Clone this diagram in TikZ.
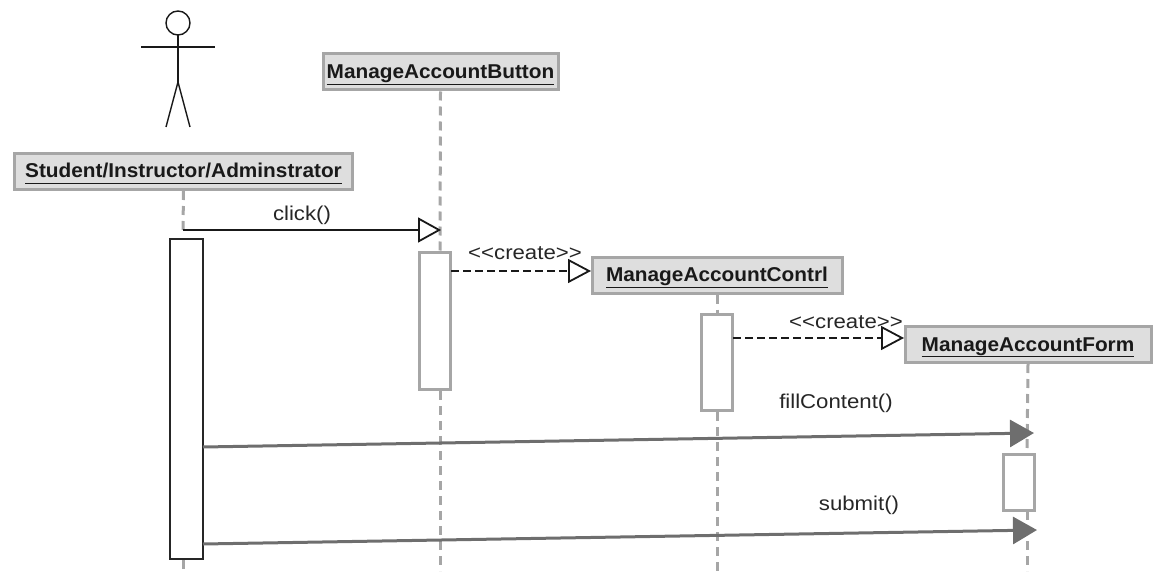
\documentclass[tikz,border=0pt]{standalone}
\usepackage{fontspec}
\setmainfont{Liberation Sans}
\newfontfamily\objfont[FakeStretch=1.04]{Liberation Sans Bold}
\newfontfamily\lblfont[FakeStretch=1.11]{Liberation Sans}
\usetikzlibrary{arrows.meta}
\definecolor{bx}{HTML}{A6A6A6}
\definecolor{bxfill}{HTML}{DEDEDE}
\definecolor{msg}{HTML}{6E6E6E}
\newcommand{\objname}[1]{\objfont\fontsize{20}{22}\selectfont\raisebox{-6.5pt}[0pt][0pt]{\underline{\smash{#1}\vphantom{g}}}}
\tikzset{
  x=1pt,y=-1pt,
  objbox/.style={draw=bx,fill=bxfill,line width=3pt,minimum height=36pt,inner sep=0pt,text=black!90},
  actbar/.style={draw=bx,fill=white,line width=3pt,minimum width=31pt,inner sep=0pt},
  actbarblack/.style={draw=black!85,fill=white,line width=1.8pt,minimum width=33pt,inner sep=0pt},
  life/.style={draw=bx,line width=3pt,dash pattern=on 9pt off 6pt},
  lbl/.style={font=\lblfont\fontsize{20}{22}\selectfont,text=black!85,inner sep=0pt},
  callm/.style={draw=black!90,line width=1.6pt,-{Triangle[open,length=23pt,width=25pt,line width=1.8pt]}},
  createm/.style={draw=black!90,line width=1.6pt,dash pattern=on 8pt off 4pt,-{Triangle[open,length=23pt,width=24pt,line width=1.8pt,fill=white]}},
  fillm/.style={draw=msg,line width=3pt,-{Triangle[length=24pt,width=27pt]}},
  stick/.style={draw=black!90,line width=1.4pt},
}
\begin{document}
\begin{tikzpicture}
\useasboundingbox (0,0) rectangle (1161,572);
% objects
\node[objbox,minimum width=338pt] (stu) at (183.5,171.5) {\objname{Student/Instructor/Adminstrator}};
\node[objbox,minimum width=235pt] (btn) at (440.5,72) {\objname{ManageAccountButton}};
\node[objbox,minimum width=250pt] (ctl) at (717,275) {\objname{ManageAccountContrl}};
\node[objbox,minimum width=246pt] (frm) at (1028,344.5) {\objname{ManageAccountForm}};
% activations
\node[actbarblack,minimum height=320pt] (astu) at (186.5,399) {};
\node[actbar,minimum height=137pt] (abtn) at (435,321) {};
\node[actbar,minimum height=96pt] (actl) at (717,362.5) {};
\node[actbar,minimum height=56pt] (afrm) at (1019,482.5) {};
% end coordinates
\coordinate (estu) at (183,571);
\coordinate (ebtn) at (440,571);
\coordinate (ectl) at (717,571);
\coordinate (efrm) at (1027,571);
\coordinate (sclick) at (183,230);
\coordinate (eclick) at (441,230);
\coordinate (tfrm) at (1027,454);
\coordinate (tbtn) at (440,252);
\coordinate (bbtn) at (440,391);
\coordinate (bstu) at (183,560);
\coordinate (cr1s) at (451,271);
\coordinate (cr1e) at (591,271);
\coordinate (cr2s) at (733,338);
\coordinate (cr2e) at (904,338);
\coordinate (fs) at (203,447);
\coordinate (fe) at (1034,433);
\coordinate (ss) at (203,544);
\coordinate (se) at (1037,530);
\coordinate (bfrm) at (1027,511);
% lifelines
\draw[life] (stu.south) -- (sclick);
\draw[life] (bstu) -- (estu);
\draw[life] (btn.south) -- (tbtn);
\draw[life] (bbtn) -- (ebtn);
\draw[life] (ctl.south) -- (actl.north);
\draw[life] (actl.south) -- (ectl);
\draw[life] (frm.south) -- (tfrm);
\draw[life] (bfrm) -- (efrm);
% messages
\draw[callm] (sclick) -- (eclick);
\draw[createm] (cr1s) -- (cr1e);
\draw[createm] (cr2s) -- (cr2e);
\draw[fillm] (fs) -- (fe);
\draw[fillm] (ss) -- (se);
% labels
\node[lbl] (lclick) at (302,215) {click()};
\node[lbl] (lc1) at (525,253) {<{}<create>{}>};
\node[lbl] (lc2) at (846,322) {<{}<create>{}>};
\node[lbl] (lfill) at (836,403) {fillContent()};
\node[lbl] (lsub) at (859,505) {submit()};
% actor
\draw[stick] (178,23) circle (12);
\coordinate (neck) at (178,35);
\coordinate (hip) at (178,82);
\coordinate (armL) at (141,47);
\coordinate (armR) at (215,47);
\coordinate (legL) at (166,127);
\coordinate (legR) at (190,127);
\draw[stick] (neck) -- (hip);
\draw[stick] (armL) -- (armR);
\draw[stick] (legL) -- (hip) -- (legR);
\end{tikzpicture}
\end{document}
